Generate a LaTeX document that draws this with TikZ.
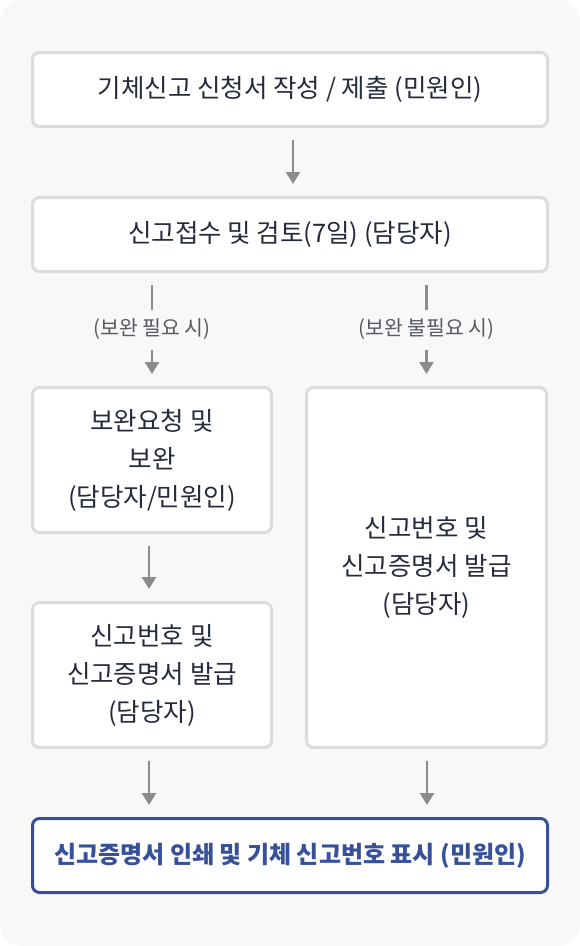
\documentclass[tikz,border=0pt]{standalone}
\usepackage{fontspec}
\setmainfont{Noto Sans CJK KR}
\usetikzlibrary{arrows.meta,calc}
\definecolor{bgc}{HTML}{F8F8F8}
\definecolor{bordc}{HTML}{DCDCDC}
\definecolor{txtc}{HTML}{242B3A}
\definecolor{arrc}{HTML}{8C8C8C}
\definecolor{lblc}{HTML}{555A63}
\definecolor{bluec}{HTML}{36519A}
\tikzset{
  box/.style={draw=bordc,line width=3pt,fill=white,rounded corners=7pt,
    align=center,text=txtc,font=\fontsize{25.5}{38}\selectfont,inner sep=0pt},
  finalbox/.style={box,draw=bluec,text=bluec,font=\fontsize{24}{38}\selectfont\bfseries},
  flow/.style={draw=arrc,line width=2.5pt,-{Triangle[width=14pt,length=12pt]},shorten <=12pt,shorten >=12pt},
  lbl/.style={fill=bgc,text=lblc,font=\fontsize{20.5}{24}\selectfont,inner xsep=2pt,minimum height=40pt}
}
\begin{document}
\begin{tikzpicture}[x=1pt,y=-1pt]
\useasboundingbox (0,0) rectangle (580,946);
\fill[bgc,rounded corners=22pt] (0,0) rectangle (580,946);
\node[box,minimum width=515pt,minimum height=74pt] (b1) at (290,89.5) {기체신고 신청서 작성 / 제출 (민원인)};
\node[box,minimum width=515pt,minimum height=74pt] (b2) at (290,234.5) {신고접수 및 검토(7일) (담당자)};
\node[box,minimum width=239pt,minimum height=145pt] (b3) at (152,460) {보완요청 및\\보완\\(담당자/민원인)};
\node[box,minimum width=239pt,minimum height=145pt] (b4) at (152,675) {신고번호 및\\신고증명서 발급\\(담당자)};
\node[box,minimum width=240pt,minimum height=360pt] (b5) at (426.5,567.5) {신고번호 및\\신고증명서 발급\\(담당자)};
\node[finalbox,minimum width=515pt,minimum height=74pt] (b6) at (290,855.5) {신고증명서 인쇄 및 기체 신고번호 표시 (민원인)};
\draw[flow] ([xshift=3pt]b1.south) -- ([xshift=3pt]b2.north);
\draw[flow] (b3.north |- b2.south) -- node[lbl]{(보완 필요 시)} (b3.north);
\draw[flow] (b5.north |- b2.south) -- node[lbl]{(보완 불필요 시)} (b5.north);
\draw[flow] ([xshift=-3pt]b3.south) -- ([xshift=-3pt]b4.north);
\draw[flow] ([xshift=-3pt]b4.south) -- ([xshift=-3pt]b4.south |- b6.north);
\draw[flow] ([xshift=0.5pt]b5.south) -- ([xshift=0.5pt]b5.south |- b6.north);
\end{tikzpicture}
\end{document}
